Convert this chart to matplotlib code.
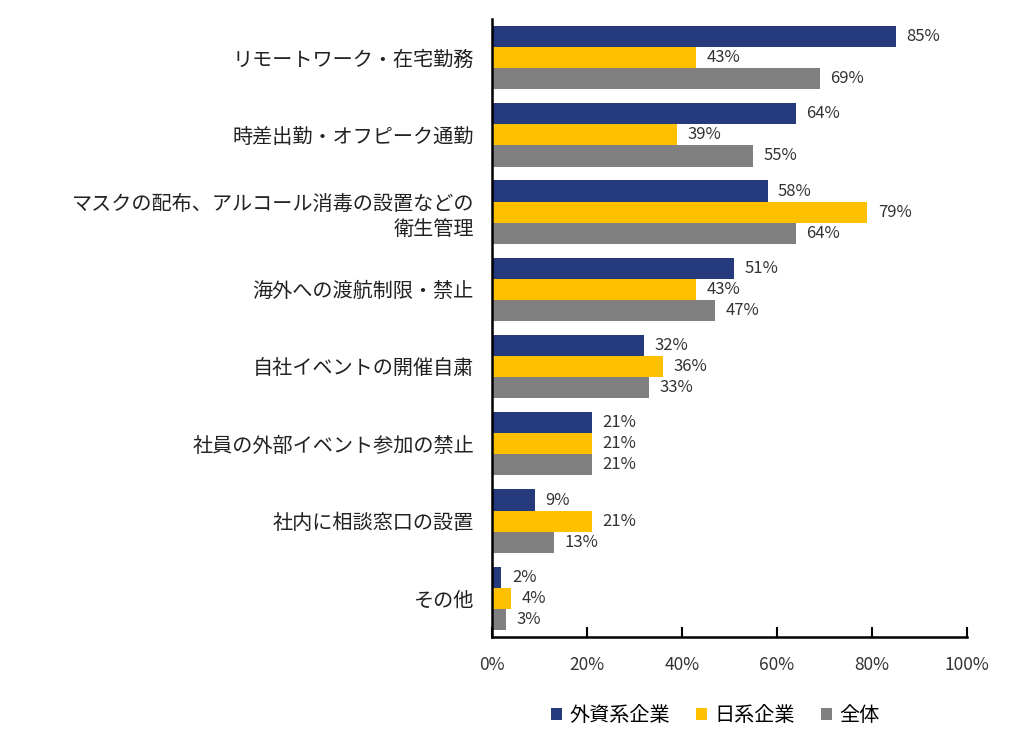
import matplotlib.pyplot as plt
import numpy as np

plt.rcParams['font.family'] = ['Noto Sans CJK JP', 'DejaVu Sans']

categories = ['リモートワーク・在宅勤務', '時差出勤・オフピーク通勤',
              'マスクの配布、アルコール消毒の設置などの\n衛生管理',
              '海外への渡航制限・禁止', '自社イベントの開催自粛',
              '社員の外部イベント参加の禁止', '社内に相談窓口の設置', 'その他']
foreign = [85, 64, 58, 51, 32, 21, 9, 2]
japanese = [43, 39, 79, 43, 36, 21, 21, 4]
total = [69, 55, 64, 47, 33, 21, 13, 3]
series_names = ['外資系企業', '日系企業', '全体']
colors = ['#253A7D', '#FFC000', '#808080']

fig = plt.figure(figsize=(10.22, 7.45), dpi=100)
ax = fig.add_axes([0.4814, 0.145, 0.4648, 0.8295])

n = len(categories)
y = np.arange(n)
h = 0.273
for k, (vals, name, c) in enumerate(zip([foreign, japanese, total], series_names, colors)):
    pos = y + (k - 1) * h
    ax.barh(pos, vals, height=h, color=c, label=name)
    for p, v in zip(pos, vals):
        ax.text(v + 2.2, p, f'{v}%', va='center', ha='left', fontsize=12, color='#333333')

ax.set_xlim(0, 100)
ax.set_ylim(n - 0.5, -0.5)
ax.set_yticks(y)
ax.set_yticklabels(categories, fontsize=14.5, color='#222222', ha='right', linespacing=1.3)
ax.set_xticks(np.arange(0, 101, 20))
ax.set_xticklabels([f'{t}%' for t in range(0, 101, 20)], fontsize=12.5, color='#333333')
ax.tick_params(axis='y', length=0, pad=13)
ax.tick_params(axis='x', direction='in', length=7, width=1.5, pad=14)
for s in ['top', 'right']:
    ax.spines[s].set_visible(False)
for s in ['left', 'bottom']:
    ax.spines[s].set_linewidth(1.8)
    ax.spines[s].set_color('black')

fig.legend(loc='center', bbox_to_anchor=(0.70, 0.04), ncol=3, frameon=False,
           fontsize=14.5, handlelength=0.55, handleheight=0.55, columnspacing=1.3,
           handletextpad=0.35)

fig.savefig('out.png', dpi=100)
